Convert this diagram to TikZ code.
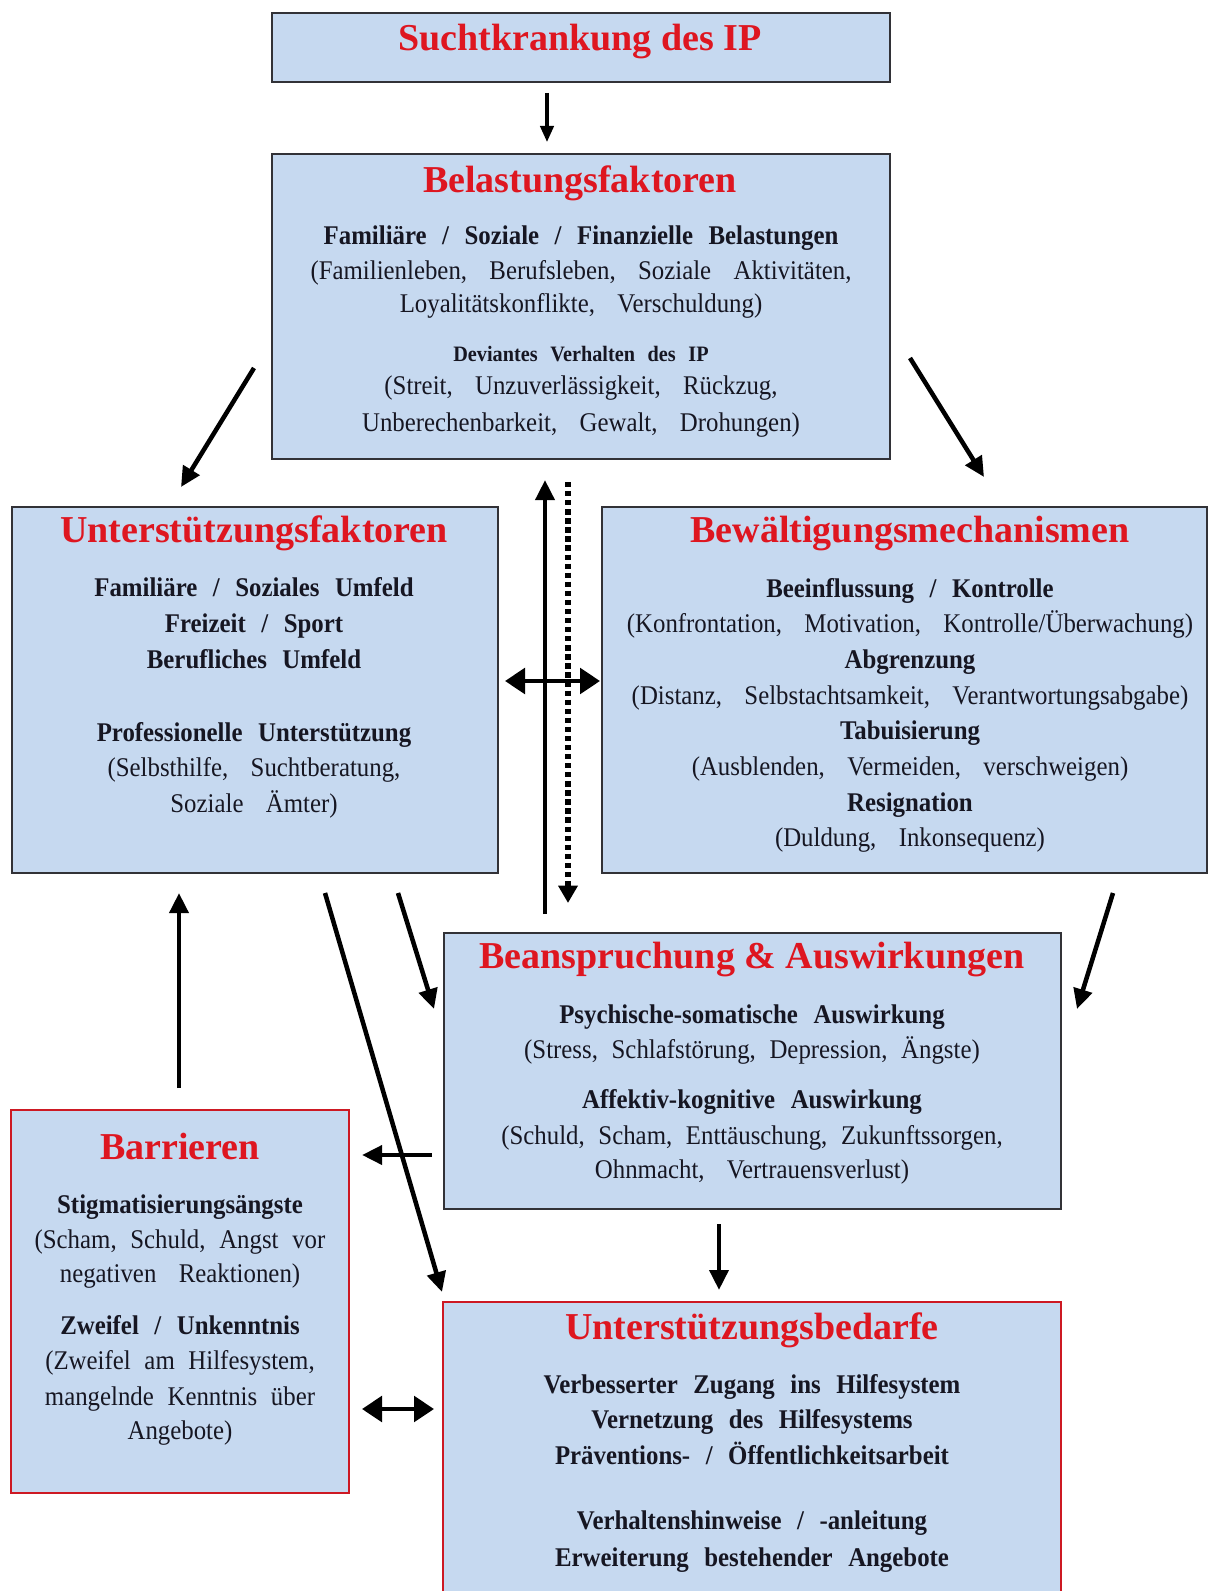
\documentclass[tikz,border=0pt]{standalone}
\usepackage{fontspec}
\setmainfont{Liberation Serif}[FakeStretch=0.92, WordSpace=3.6, BoldFeatures={WordSpace=2.5}]
\newfontfamily\tightfont{Liberation Serif}[FakeStretch=0.92, WordSpace=2.2]
\newfontfamily\ttlfont{Liberation Serif}
\usetikzlibrary{arrows.meta}

\definecolor{boxfill}{RGB}{198,217,240}
\definecolor{boxline}{RGB}{50,50,55}
\definecolor{ttlred}{RGB}{222,22,32}
\definecolor{frred}{RGB}{205,25,35}
\definecolor{ink}{RGB}{22,22,34}

\tikzset{
  panel/.style={draw=boxline, fill=boxfill, line width=1.1pt, inner sep=0, rectangle},
  redpanel/.style={panel, draw=frred, line width=2.2pt},
  ttl/.style={font=\ttlfont\bfseries\fontsize{28.5}{30}\selectfont, text=ttlred, anchor=base, inner sep=0},
  hd/.style={font=\bfseries\fontsize{20.25}{24}\selectfont, text=ink, anchor=base, inner sep=0},
  tx/.style={font=\fontsize{20.25}{24}\selectfont, text=ink, anchor=base, inner sep=0},
  txn/.style={font=\tightfont\fontsize{20.25}{24}\selectfont, text=ink, anchor=base, inner sep=0},
  sm/.style={font=\bfseries\fontsize{16.5}{19}\selectfont, text=ink, anchor=base, inner sep=0},
  arr/.style={line width=3.4pt, -{Triangle[length=15pt,width=14pt]}},
  thinarr/.style={line width=2.4pt, -{Triangle[length=12pt,width=10pt]}},
  twoway/.style={line width=3.4pt, {Triangle[length=15pt,width=19pt]}-{Triangle[length=15pt,width=19pt]}},
  dotarr/.style={line width=4pt, dash pattern=on 4pt off 2.8pt, -{Triangle[length=13pt,width=14pt]}},
}

\begin{document}
\begin{tikzpicture}[x=0.75pt, y=-0.75pt]
\useasboundingbox (0,0) rectangle (1209,1591);
\clip (0,0) rectangle (1209,1591);
\fill[white] (0,0) rectangle (1209,1591);

% panels
\node[panel, minimum width=618*0.75pt, minimum height=69*0.75pt] (sucht) at (581,47.5) {};
\node[panel, minimum width=618*0.75pt, minimum height=305*0.75pt] (belast) at (581,306.5) {};
\node[panel, minimum width=486*0.75pt, minimum height=366*0.75pt] (unterst) at (255,690) {};
\node[panel, minimum width=605*0.75pt, minimum height=366*0.75pt] (bewael) at (904.5,690) {};
\node[panel, minimum width=617*0.75pt, minimum height=276*0.75pt] (beansp) at (752.5,1071) {};
\node[redpanel, minimum width=338*0.75pt, minimum height=383*0.75pt] (barr) at (180,1301.5) {};
\node[redpanel, minimum width=618*0.75pt, minimum height=318*0.75pt] (bedarf) at (752,1461) {};

% titles
\node[ttl] (t1) at (580,51) {Suchtkrankung des IP};
\node[ttl] (t2) at (580,192) {Belastungsfaktoren};
\node[ttl] (t3) at (254,542) {Unterstützungsfaktoren};
\node[ttl] (t4) at (910,542) {Bewältigungsmechanismen};
\node[ttl] (t5) at (752,968) {Beanspruchung \& Auswirkungen};
\node[ttl] (t6) at (180,1159) {Barrieren};
\node[ttl] (t7) at (752,1339) {Unterstützungsbedarfe};

% panel texts
\foreach \yy/\txt/\st [count=\i] in {
  244/{Familiäre / Soziale / Finanzielle Belastungen}/hd,
  279/{(Familienleben, Berufsleben, Soziale Aktivitäten,}/tx,
  312/{Loyalitätskonflikte, Verschuldung)}/tx,
  361/{Deviantes Verhalten des IP}/sm,
  394/{(Streit, Unzuverlässigkeit, Rückzug,}/tx,
  431/{Unberechenbarkeit, Gewalt, Drohungen)}/tx}
  \node[\st] (belast-\i) at (581,\yy) {\txt};

\foreach \yy/\txt/\st [count=\i] in {
  596/{Familiäre / Soziales Umfeld}/hd,
  632/{Freizeit / Sport}/hd,
  668/{Berufliches Umfeld}/hd,
  741/{Professionelle Unterstützung}/hd,
  776/{(Selbsthilfe, Suchtberatung,}/tx,
  812/{Soziale Ämter)}/tx}
  \node[\st] (unterst-\i) at (254,\yy) {\txt};

\foreach \yy/\txt/\st [count=\i] in {
  597/{Beeinflussung / Kontrolle}/hd,
  632/{(Konfrontation, Motivation, Kontrolle/Überwachung)}/tx,
  668/{Abgrenzung}/hd,
  704/{(Distanz, Selbstachtsamkeit, Verantwortungsabgabe)}/tx,
  739/{Tabuisierung}/hd,
  775/{(Ausblenden, Vermeiden, verschweigen)}/tx,
  811/{Resignation}/hd,
  846/{(Duldung, Inkonsequenz)}/tx}
  \node[\st] (bewael-\i) at (910,\yy) {\txt};

\foreach \yy/\txt/\st [count=\i] in {
  1023/{Psychische-somatische Auswirkung}/hd,
  1058/{(Stress, Schlafstörung, Depression, Ängste)}/txn,
  1108/{Affektiv-kognitive Auswirkung}/hd,
  1144/{(Schuld, Scham, Enttäuschung, Zukunftssorgen,}/txn,
  1178/{Ohnmacht, Vertrauensverlust)}/tx}
  \node[\st] (beansp-\i) at (752,\yy) {\txt};

\foreach \yy/\txt/\st [count=\i] in {
  1213/{Stigmatisierungsängste}/hd,
  1248/{(Scham, Schuld, Angst vor}/txn,
  1282/{negativen Reaktionen)}/tx,
  1334/{Zweifel / Unkenntnis}/hd,
  1369/{(Zweifel am Hilfesystem,}/txn,
  1405/{mangelnde Kenntnis über}/txn,
  1439/{Angebote)}/tx}
  \node[\st] (barr-\i) at (180,\yy) {\txt};

\foreach \yy/\txt/\st [count=\i] in {
  1393/{Verbesserter Zugang ins Hilfesystem}/hd,
  1428/{Vernetzung des Hilfesystems}/hd,
  1464/{Präventions- / Öffentlichkeitsarbeit}/hd,
  1529/{Verhaltenshinweise / -anleitung}/hd,
  1566/{Erweiterung bestehender Angebote}/hd}
  \node[\st] (bedarf-\i) at (752,\yy) {\txt};

% arrow end points
\coordinate (a1s) at (547,93);   \coordinate (a1e) at (547,142);
\coordinate (a2s) at (254,368);  \coordinate (a2e) at (181,487);
\coordinate (a3s) at (910,358);  \coordinate (a3e) at (984,477);
\coordinate (upS) at (545,914);  \coordinate (upE) at (545,480);
\coordinate (dnS) at (568,482);  \coordinate (dnE) at (568,903);
\coordinate (hL) at (505,681);   \coordinate (hR) at (600,681);
\coordinate (b1s) at (179,1088); \coordinate (b1e) at (179,893);
\coordinate (d1s) at (325,893);  \coordinate (d1e) at (442,1292);
\coordinate (d2s) at (398,893);  \coordinate (d2e) at (434,1009);
\coordinate (d3s) at (1113,893); \coordinate (d3e) at (1077,1009);
\coordinate (l1s) at (432,1155); \coordinate (l1e) at (362,1155);
\coordinate (v1s) at (719,1224); \coordinate (v1e) at (719,1290);
\coordinate (wL) at (362,1409);  \coordinate (wR) at (434,1409);

% connectors
\draw[thinarr] (a1s) -- (a1e);
\draw[arr] (a2s) -- (a2e);
\draw[arr] (a3s) -- (a3e);
\draw[arr] (upS) -- (upE);
\draw[dotarr] (dnS) -- (dnE);
\draw[twoway] (hL) -- (hR);
\draw[arr] (b1s) -- (b1e);
\draw[arr] (d2s) -- (d2e);
\draw[arr] (d3s) -- (d3e);
\draw[arr] (l1s) -- (l1e);
\draw[arr] (d1s) -- (d1e);
\draw[arr] (v1s) -- (v1e);
\draw[twoway] (wL) -- (wR);
\end{tikzpicture}
\end{document}
